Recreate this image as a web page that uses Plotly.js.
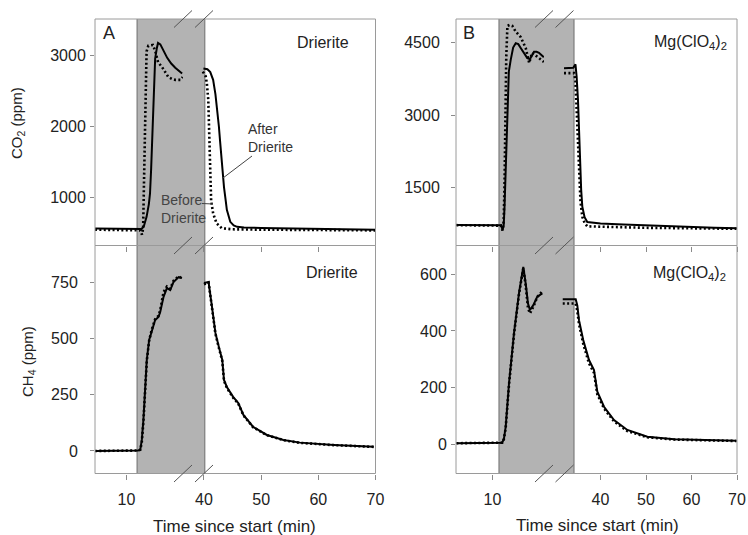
<!DOCTYPE html>
<html>
<head>
<meta charset="utf-8">
<script src="https://cdn.plot.ly/plotly-3.0.1.min.js"></script>
<style>html,body{margin:0;padding:0;background:#fff;}#chart{width:748px;height:535px;}</style>
</head>
<body>
<div id="chart"></div>
<script>
// ---------------- DATA (time in min, concentrations in ppm) ----------------
// Panel A (Drierite) – CO2
const A_co2_after_early_t = [4.5, 6, 8, 10, 11, 12, 12.6, 13.0, 13.5, 13.9, 14.1, 14.3, 14.6, 14.8, 15.0, 15.3, 15.5, 15.9, 16.3, 17.1, 17.8, 18.5, 19.7];
const A_co2_after_early_v = [555, 555, 553, 552, 550, 550, 550, 580, 720, 900, 1050, 1400, 2000, 2600, 2950, 3100, 3170, 3150, 3080, 2960, 2880, 2820, 2740];
const A_co2_before_early_t = [4.5, 6, 8, 10, 11, 12, 12.4, 12.7, 12.9, 13.05, 13.2, 13.35, 13.5, 13.8, 14.2, 14.6, 15.0, 15.5, 16.2, 16.8, 17.3, 18.0, 18.5, 19.4, 19.8];
const A_co2_before_early_v = [540, 540, 538, 538, 536, 535, 530, 470, 560, 1200, 2000, 2700, 3050, 3130, 3140, 3140, 3060, 2900, 2830, 2760, 2690, 2660, 2650, 2650, 2690];
const A_co2_after_late_t = [39.9, 40.6, 41.1, 41.6, 42.0, 42.3, 42.6, 42.8, 43.0, 43.2, 43.5, 43.8, 44.0, 44.6, 45.2, 45.8, 47, 50, 55, 60, 65, 70];
const A_co2_after_late_v = [2810, 2800, 2760, 2650, 2450, 2250, 2000, 1800, 1600, 1420, 1140, 950, 820, 650, 600, 580, 570, 565, 558, 550, 545, 540];
const A_co2_before_late_t = [39.8, 40.3, 40.5, 40.75, 40.95, 41.1, 41.25, 41.6, 42.2, 43.1, 45, 50, 55, 60, 65, 70];
const A_co2_before_late_v = [2765, 2700, 2600, 2370, 1800, 1200, 950, 770, 630, 560, 545, 540, 538, 535, 532, 530];

// Panel A (Drierite) – CH4
const A_ch4_early_t = [4.5, 6, 8, 10, 11, 12, 12.4, 12.67, 12.95, 13.25, 13.54, 13.95, 14.42, 15.0, 15.58, 15.88, 16.46, 17.05, 17.63, 18.2, 19.09, 19.68];
const A_ch4_after_early_v = [0, 0, 0, 0, 0, 2, 5, 49, 138, 284, 404, 493, 537, 581, 595, 617, 684, 723, 714, 750, 772, 768];
const A_ch4_before_early_v = [0, 0, 0, 0, 0, 2, 5, 40, 130, 280, 400, 490, 540, 585, 600, 625, 705, 730, 720, 755, 775, 765];
const A_ch4_late_t = [40.0, 40.8, 41.4, 42.0, 42.6, 43.2, 43.5, 44.0, 45.1, 46.0, 46.9, 48.6, 51.0, 53.9, 56.8, 62.7, 69.7];
const A_ch4_after_late_v = [746, 750, 640, 524, 462, 404, 315, 284, 240, 213, 160, 107, 71, 49, 37, 27, 19];
const A_ch4_before_late_v = [740, 748, 635, 520, 458, 400, 312, 280, 236, 210, 158, 105, 70, 48, 36, 26, 18];

// Panel B (Mg(ClO4)2) – CO2
const B_co2_after_early_t = [3.7, 6, 8, 10, 11, 11.5, 11.75, 11.95, 12.1, 12.3, 12.58, 12.85, 13.17, 13.6, 14.05, 14.5, 14.92, 15.5, 16.07, 16.54, 16.9, 17.24, 17.7, 18.11, 18.95];
const B_co2_after_early_v = [720, 720, 718, 716, 715, 712, 620, 700, 1100, 1920, 3310, 3900, 4140, 4400, 4490, 4470, 4390, 4280, 4180, 4160, 4250, 4310, 4310, 4290, 4200];
const B_co2_before_early_t = [3.7, 6, 8, 10, 11, 11.5, 11.75, 11.95, 12.1, 12.25, 12.4, 12.6, 13.0, 13.45, 14.05, 14.9, 15.8, 16.4, 16.9, 17.9, 18.95];
const B_co2_before_early_v = [715, 715, 712, 710, 708, 705, 600, 800, 1600, 3000, 4200, 4850, 4870, 4850, 4730, 4620, 4390, 4080, 4290, 4200, 4100];
const B_co2_after_late_t = [31.98, 33, 34, 34.5, 34.75, 35.05, 35.3, 35.5, 35.75, 36.0, 36.5, 37.1, 38.5, 40, 45, 50, 55, 60, 65, 70];
const B_co2_after_late_v = [3970, 3970, 3980, 4050, 3800, 3310, 2600, 1920, 1450, 1100, 880, 780, 760, 750, 730, 710, 690, 675, 660, 650];
const B_co2_before_late_t = [31.98, 33, 34.2, 34.5, 34.8, 35.05, 35.3, 35.6, 36.0, 36.5, 37.1, 40, 45, 50, 55, 60, 65, 70];
const B_co2_before_late_v = [3870, 3870, 3870, 3700, 3000, 2400, 1800, 1200, 890, 760, 690, 680, 670, 660, 655, 650, 645, 640];

// Panel B (Mg(ClO4)2) – CH4
const B_ch4_early_t = [3.7, 6, 8, 10, 11, 11.7, 12.0, 12.3, 12.88, 13.75, 14.62, 15.1, 15.37, 15.79, 16.19, 16.54, 17.12, 17.81, 18.69];
const B_ch4_after_early_v = [3, 3, 3, 3, 3, 5, 20, 61, 215, 392, 534, 600, 626, 568, 497, 474, 491, 521, 533];
const B_ch4_before_early_v = [3, 3, 3, 3, 3, 5, 18, 58, 210, 388, 530, 598, 622, 560, 480, 462, 485, 520, 540];
const B_ch4_late_t = [31.7, 33, 34.55, 34.9, 35.27, 36.2, 37.47, 38.57, 39.3, 40.77, 42.97, 45.9, 50.3, 56.2, 63.5, 69.9];
const B_ch4_after_late_v = [512, 512, 512, 490, 438, 368, 297, 262, 185, 132, 85, 50, 26, 17, 14, 12];
const B_ch4_before_late_v = [497, 497, 497, 470, 425, 355, 285, 252, 176, 126, 80, 46, 24, 16, 13, 11];

// Exposure window (grey band) start/end, minutes
const A_band = [11.84, 40.15];
const B_band = [11.13, 34.18];

// Tick values
const xTicksEarly = [10];
const xTicksLate = [40, 50, 60, 70];
const A_co2_ticks = [1000, 2000, 3000];
const A_ch4_ticks = [0, 250, 500, 750];
const B_co2_ticks = [1500, 3000, 4500];
const B_ch4_ticks = [0, 200, 400, 600];

// ---------------- LAYOUT GEOMETRY (pixels) ----------------
const W = 748, H = 535;
const fx = p => p / W;
const fy = p => 1 - p / H;
const TOP = 19, MID = 245.5, BOT = 473.5;
const colA = {L: 95, brk: 183, R: 375.5, slash: [183, 204]};
const colB = {L: 456, brk: 544, R: 737, slash: [544, 564.5]};
const rngA_early = [4.506, 19.855], rngA_late = [36.33, 70];
const rngB_early = [3.633, 18.983], rngB_late = [27.58, 70];

const FONT = 'Liberation Sans, Arial, sans-serif';
const TXT = '#222';

const solid = {color: '#000', width: 2};
const dotted = {color: '#000', width: 2.6, dash: '2px,2.4px'};

function tr(x, y, xa, ya, line) {
  return {x: x, y: y, xaxis: xa, yaxis: ya, type: 'scatter', mode: 'lines', line: line, hoverinfo: 'skip', showlegend: false};
}

const data = [
  tr(A_co2_before_early_t, A_co2_before_early_v, 'x', 'y', dotted),
  tr(A_co2_after_early_t, A_co2_after_early_v, 'x', 'y', solid),
  tr(A_co2_before_late_t, A_co2_before_late_v, 'x2', 'y', dotted),
  tr(A_co2_after_late_t, A_co2_after_late_v, 'x2', 'y', solid),
  tr(A_ch4_early_t, A_ch4_after_early_v, 'x3', 'y2', solid),
  tr(A_ch4_early_t, A_ch4_before_early_v, 'x3', 'y2', dotted),
  tr(A_ch4_late_t, A_ch4_after_late_v, 'x4', 'y2', solid),
  tr(A_ch4_late_t, A_ch4_before_late_v, 'x4', 'y2', dotted),
  tr(B_co2_before_early_t, B_co2_before_early_v, 'x5', 'y3', dotted),
  tr(B_co2_after_early_t, B_co2_after_early_v, 'x5', 'y3', solid),
  tr(B_co2_before_late_t, B_co2_before_late_v, 'x6', 'y3', dotted),
  tr(B_co2_after_late_t, B_co2_after_late_v, 'x6', 'y3', solid),
  tr(B_ch4_early_t, B_ch4_after_early_v, 'x7', 'y4', solid),
  tr(B_ch4_early_t, B_ch4_before_early_v, 'x7', 'y4', dotted),
  tr(B_ch4_late_t, B_ch4_after_late_v, 'x8', 'y4', solid),
  tr(B_ch4_late_t, B_ch4_before_late_v, 'x8', 'y4', dotted)
];

function xax(domPx, range, anchor, ticks, labels) {
  return {
    domain: [fx(domPx[0]), fx(domPx[1])], range: range, anchor: anchor,
    tickmode: 'array', tickvals: ticks, ticktext: ticks.map(String),
    showticklabels: labels, ticks: 'outside', ticklen: 5, tickwidth: 1, tickcolor: '#8a8a8a',
    showline: false, showgrid: false, zeroline: false, fixedrange: true,
    tickfont: {family: FONT, size: 16, color: TXT}, ticklabelstandoff: 6
  };
}
function yax(domPx, range, anchor, ticks, standoff) {
  return {
    domain: [fy(domPx[1]), fy(domPx[0])], range: range, anchor: anchor,
    tickmode: 'array', tickvals: ticks, ticktext: ticks.map(String),
    ticks: 'outside', ticklen: 4, tickwidth: 1, tickcolor: '#8a8a8a',
    showline: false, showgrid: false, zeroline: false, fixedrange: true,
    tickfont: {family: FONT, size: 16, color: TXT}, ticklabelstandoff: standoff
  };
}

const layout = {
  width: W, height: H,
  margin: {l: 0, r: 0, t: 0, b: 0},
  paper_bgcolor: '#fff', plot_bgcolor: 'rgba(0,0,0,0)',
  showlegend: false,
  font: {family: FONT, size: 16, color: TXT},
  xaxis:  xax([colA.L, colA.brk], rngA_early, 'y', xTicksEarly, false),
  xaxis2: xax([colA.brk, colA.R], rngA_late, 'y', xTicksLate, false),
  xaxis3: xax([colA.L, colA.brk], rngA_early, 'y2', xTicksEarly, true),
  xaxis4: xax([colA.brk, colA.R], rngA_late, 'y2', xTicksLate, true),
  xaxis5: xax([colB.L, colB.brk], rngB_early, 'y3', xTicksEarly, false),
  xaxis6: xax([colB.brk, colB.R], rngB_late, 'y3', xTicksLate, false),
  xaxis7: xax([colB.L, colB.brk], rngB_early, 'y4', xTicksEarly, true),
  xaxis8: xax([colB.brk, colB.R], rngB_late, 'y4', xTicksLate, true),
  yaxis:  yax([TOP, MID], [317, 3507], 'x', A_co2_ticks, 1),
  yaxis2: yax([MID, BOT], [-100, 912], 'x3', A_ch4_ticks, 9),
  yaxis3: yax([TOP, MID], [293, 4992], 'x5', B_co2_ticks, 8),
  yaxis4: yax([MID, BOT], [-104, 702], 'x7', B_ch4_ticks, 1),
  shapes: [], annotations: []
};

const S = layout.shapes;
const bandStyle = {type: 'rect', yref: 'paper', y0: fy(BOT), y1: fy(TOP), fillcolor: '#b3b3b3', line: {width: 0}, layer: 'below'};
S.push(Object.assign({}, bandStyle, {xref: 'x', x0: A_band[0], x1: rngA_early[1]}));
S.push(Object.assign({}, bandStyle, {xref: 'x2', x0: rngA_late[0], x1: A_band[1]}));
S.push(Object.assign({}, bandStyle, {xref: 'x5', x0: B_band[0], x1: rngB_early[1]}));
S.push(Object.assign({}, bandStyle, {xref: 'x6', x0: rngB_late[0], x1: B_band[1]}));
const edge = (xr, xv) => ({type: 'line', xref: xr, yref: 'paper', x0: xv, x1: xv, y0: fy(BOT), y1: fy(TOP), line: {color: '#6e6e6e', width: 1}, layer: 'below'});
S.push(edge('x', A_band[0]), edge('x2', A_band[1]), edge('x5', B_band[0]), edge('x6', B_band[1]));

[colA, colB].forEach(c => {
  [[TOP, MID], [MID, BOT]].forEach(r => {
    S.push({type: 'rect', xref: 'paper', yref: 'paper', x0: fx(c.L), x1: fx(c.R), y0: fy(r[1]), y1: fy(r[0]),
      line: {color: '#9a9a9a', width: 1}, fillcolor: 'rgba(0,0,0,0)', layer: 'above'});
  });
  [TOP, MID, BOT].forEach(yy => {
    c.slash.forEach(xx => {
      S.push({type: 'line', xref: 'paper', yref: 'paper', x0: fx(xx - 9), x1: fx(xx + 9), y0: fy(yy + 8.5), y1: fy(yy - 8.5),
        line: {color: '#555', width: 1}, layer: 'above'});
    });
  });
});
S.push({type: 'line', xref: 'paper', yref: 'paper', x0: fx(252), y0: fy(156), x1: fx(223), y1: fy(178), line: {color: '#444', width: 1}});
S.push({type: 'line', xref: 'paper', yref: 'paper', x0: fx(202), y0: fy(203.5), x1: fx(213), y1: fy(204), line: {color: '#444', width: 1}});

const A = layout.annotations;
function txt(text, x, y, size, opts) {
  A.push(Object.assign({text: text, xref: 'paper', yref: 'paper', x: fx(x), y: fy(y), showarrow: false,
    xanchor: 'center', yanchor: 'middle', font: {family: FONT, size: size, color: TXT}}, opts || {}));
}
txt('A', 109, 33, 18);
txt('B', 469, 33, 18);
txt('Drierite', 323, 42, 16);
txt('Mg(ClO<sub>4</sub>)<sub>2</sub>', 690, 43, 16);
txt('Drierite', 332, 272, 16);
txt('Mg(ClO<sub>4</sub>)<sub>2</sub>', 689, 273, 16);
txt('After<br>Drierite', 246, 138, 14, {xanchor: 'left', align: 'left', font: {family: FONT, size: 14, color: '#333'}});
txt('Before<br>Drierite', 159, 209, 14, {xanchor: 'left', align: 'left', font: {family: FONT, size: 14, color: '#444'}});
txt('CO<sub>2</sub> (ppm)', 18, 123, 15, {textangle: -90});
txt('CH<sub>4</sub> (ppm)', 28, 361, 15, {textangle: -90});
txt('Time since start (min)', 235, 526, 17);
txt('Time since start (min)', 597, 525, 17);

Plotly.newPlot('chart', data, layout, {displayModeBar: false, responsive: false});
</script>
</body>
</html>
